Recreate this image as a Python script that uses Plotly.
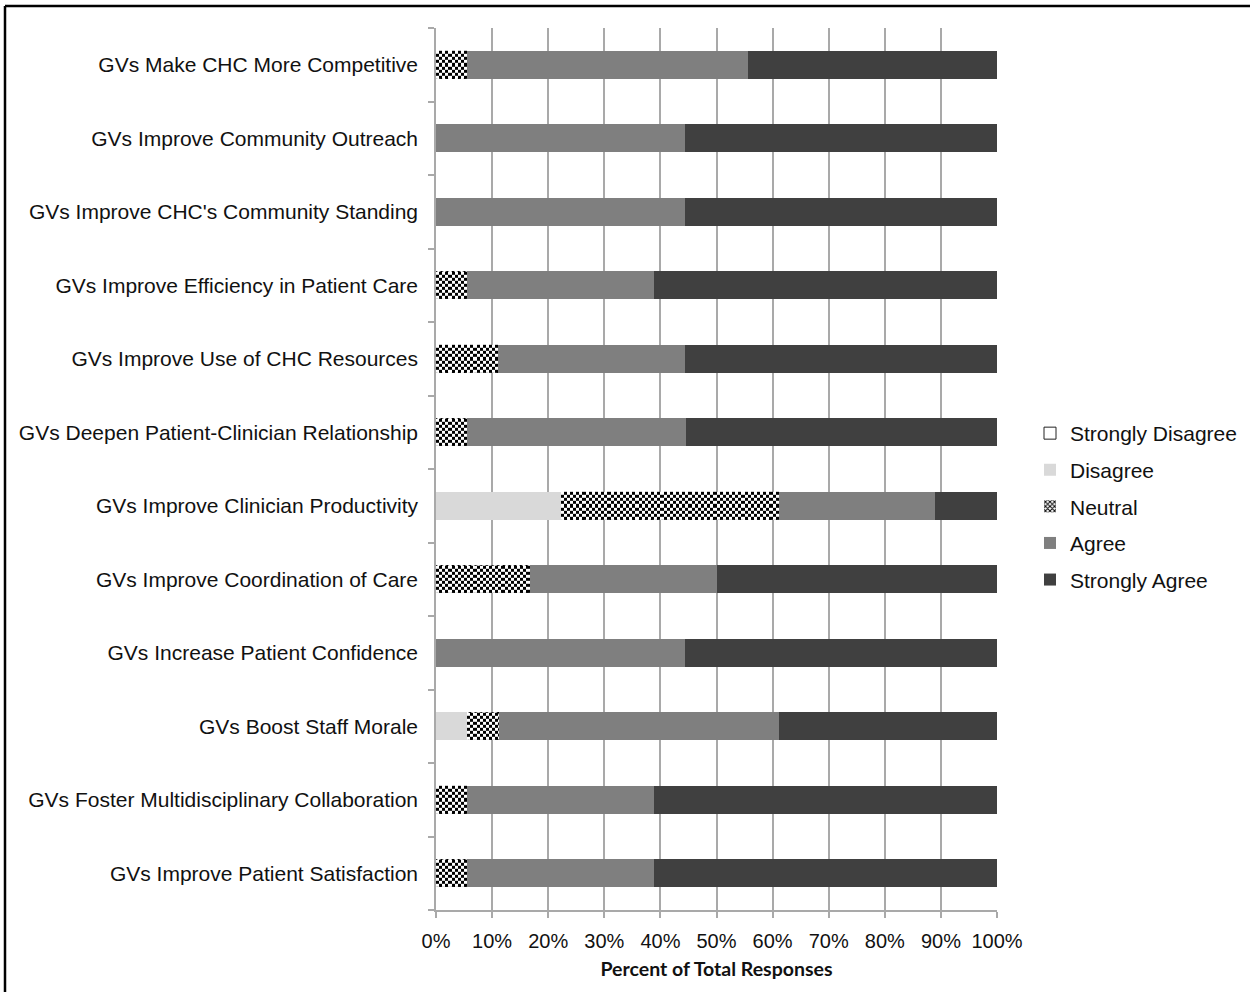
import plotly.graph_objects as go

# Survey statements, listed top to bottom
statements = [
    "GVs Make CHC More Competitive",
    "GVs Improve Community Outreach",
    "GVs Improve CHC's Community Standing",
    "GVs Improve Efficiency in Patient Care",
    "GVs Improve Use of CHC Resources",
    "GVs Deepen Patient-Clinician Relationship",
    "GVs Improve Clinician Productivity",
    "GVs Improve Coordination of Care",
    "GVs Increase Patient Confidence",
    "GVs Boost Staff Morale",
    "GVs Foster Multidisciplinary Collaboration",
    "GVs Improve Patient Satisfaction",
]

# Percent of total responses per answer category
strongly_disagree = [0, 0, 0, 0, 0, 0, 0, 0, 0, 0, 0, 0]
disagree = [0, 0, 0, 0, 0, 0, 22.2, 0, 0, 5.6, 0, 0]
neutral = [5.6, 0, 0, 5.6, 11.1, 5.6, 38.9, 16.7, 0, 5.6, 5.6, 5.6]
agree = [50.0, 44.4, 44.4, 33.3, 33.3, 38.9, 27.8, 33.3, 44.4, 50.0, 33.3, 33.3]
strongly_agree = [44.4, 55.6, 55.6, 61.1, 55.6, 55.6, 11.1, 50.0, 55.6, 38.9, 61.1, 61.1]

x_ticks = [0, 10, 20, 30, 40, 50, 60, 70, 80, 90, 100]
x_tick_labels = [f"{v}%" for v in x_ticks]

FONT = "Liberation Sans, Arial, sans-serif"
TEXT = "#111111"
GRID = "#a9a9a9"
BAR_W = 0.38

# figure geometry
W, H = 1250, 992
ML, MR, MT, MB = 436, 253, 28, 82

pos = list(range(len(statements)))

fig = go.Figure()

series = [
    ("Strongly Disagree", strongly_disagree, "#ffffff"),
    ("Disagree", disagree, "#d9d9d9"),
    ("Neutral", neutral, "#ffffff"),
    ("Agree", agree, "#7f7f7f"),
    ("Strongly Agree", strongly_agree, "#404040"),
]
for name, vals, color in series:
    marker = dict(color=color, line=dict(width=0))
    if name == "Strongly Disagree":
        marker["line"] = dict(color="#222222", width=1)
    if name == "Neutral":
        marker["pattern"] = dict(shape="x", fgcolor="#000000", bgcolor="#ffffff",
                                 size=4, solidity=0.5, fillmode="replace")
    fig.add_trace(go.Bar(
        name=name, y=pos, x=vals, orientation="h", width=BAR_W,
        marker=marker, legendgroup=name, hoverinfo="x+name",
    ))

# Checkerboard texture for the neutral segments, laid over the bars
N_COLS = 180          # columns across 0-100 %
N_SUB = 9             # checker rows per bar
step = 100.0 / N_COLS
x_edges = [c * step for c in range(N_COLS + 1)]
y_edges, z = [], []
for i in pos:
    start = strongly_disagree[i] + disagree[i]
    end = start + neutral[i]
    for k in range(N_SUB + 1):
        y_edges.append(i - BAR_W / 2 + k * BAR_W / N_SUB)
    for k in range(N_SUB):
        row = []
        for c in range(N_COLS):
            cx = (c + 0.5) * step
            row.append((k + c) % 2 if (neutral[i] > 0 and start <= cx <= end) else None)
        z.append(row)
    if i < len(pos) - 1:
        z.append([None] * N_COLS)

fig.add_trace(go.Heatmap(
    x=x_edges, y=y_edges, z=z, xaxis="x2", yaxis="y2",
    colorscale=[[0, "#ffffff"], [1, "#000000"]], zmin=0, zmax=1,
    showscale=False, hoverinfo="skip", showlegend=False, zsmooth=False,
))

y_range = [len(pos) - 0.5, -0.5]
boundaries = [p - 0.5 for p in pos] + [len(pos) - 0.5]

fig.update_layout(
    width=W, height=H,
    margin=dict(l=ML, r=MR, t=MT, b=MB, pad=0, autoexpand=False),
    barmode="stack", bargap=0.62,
    paper_bgcolor="#ffffff", plot_bgcolor="#ffffff",
    font=dict(family=FONT, size=21, color=TEXT),
    xaxis=dict(
        range=[0, 100], tickvals=x_ticks, ticktext=x_tick_labels,
        tickfont=dict(size=20),
        showgrid=True, gridcolor=GRID, gridwidth=1.5,
        showline=True, linecolor=GRID, linewidth=1.5,
        ticks="outside", ticklen=6, tickcolor=GRID, tickwidth=1.5,
        zeroline=False, ticklabelstandoff=6,
        title=dict(text="<b>Percent of Total Responses</b>",
                   font=dict(family="Lato, sans-serif", size=19.5, color=TEXT),
                   standoff=12),
    ),
    yaxis=dict(
        range=y_range, tickvals=pos, ticktext=statements, ticks="",
        showgrid=False, zeroline=False,
        showline=True, linecolor=GRID, linewidth=1.5, mirror=False,
        ticklabelstandoff=12,
        minor=dict(tickmode="array", tickvals=boundaries, ticks="outside",
                   ticklen=6, tickcolor=GRID, tickwidth=1.5, showgrid=False),
    ),
    xaxis2=dict(range=[0, 100], overlaying="x", visible=False),
    yaxis2=dict(range=y_range, overlaying="y", visible=False),
    legend=dict(
        xref="container", yref="container",
        x=1030 / W, y=1 - 413 / H, xanchor="left", yanchor="top",
        traceorder="grouped", tracegroupgap=6.3,
        font=dict(family=FONT, size=21, color=TEXT),
        bgcolor="rgba(0,0,0,0)", itemwidth=30,
    ),
    showlegend=True,
)

# Black frame along the top and left edges of the figure
pw, ph = W - ML - MR, H - MT - MB
left_x = (5 - ML) / pw
top_y = (H - MB - 6) / ph
right_x = (W - ML) / pw
bottom_y = -(MB) / ph
fig.add_shape(type="line", xref="paper", yref="paper",
              x0=left_x, x1=right_x, y0=top_y, y1=top_y,
              line=dict(color="#000000", width=2.5))
fig.add_shape(type="line", xref="paper", yref="paper",
              x0=left_x, x1=left_x, y0=top_y, y1=bottom_y,
              line=dict(color="#000000", width=2.5))

fig.write_html("out.html")
